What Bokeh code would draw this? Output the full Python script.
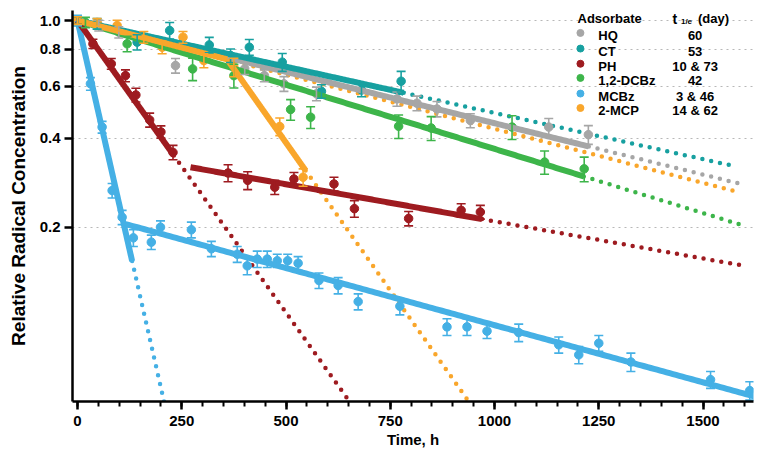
import numpy as np
from bokeh.plotting import figure
from bokeh.models import ColumnDataSource, Whisker, TeeHead, FixedTicker, PrintfTickFormatter, Range1d
from bokeh.core.properties import value
from bokeh.embed import file_html
from bokeh.resources import INLINE

FONT = "Liberation Sans"

# ---------------- data ----------------
names = ["HQ", "CT", "PH", "1,2-DCBz", "MCBz", "2-MCP"]
t_half_days = ["60", "53", "10 & 73", "42", "3 & 46", "14 & 62"]
colors = ["#a6a6a6", "#17a0a0", "#9e1b20", "#3db54a", "#45b0e5", "#f9a62b"]

hq_t = [0, 51, 99, 235, 401, 448, 495, 573, 766, 814, 862, 942, 1130, 1225]
hq_v = [1.0, 0.962, 0.913, 0.704, 0.687, 0.651, 0.611, 0.565, 0.543, 0.525, 0.502, 0.459, 0.436, 0.411]
hq_e = [0.03, 0.04, 0.04, 0.04, 0.03, 0.03, 0.035, 0.03, 0.03, 0.03, 0.03, 0.025, 0.03, 0.03]

ct_t = [0, 47, 143, 221, 316, 367, 412, 491, 585, 681, 776]
ct_v = [1.0, 0.975, 0.845, 0.925, 0.827, 0.761, 0.812, 0.723, 0.576, 0.582, 0.623]
ct_e = [0.04, 0.04, 0.05, 0.06, 0.05, 0.04, 0.05, 0.05, 0.03, 0.03, 0.05]

ph_t = [0, 37, 81, 115, 140, 173, 200, 229, 361, 408, 473, 519, 615, 664, 794, 920, 966]
ph_v = [1.0, 0.834, 0.714, 0.651, 0.56, 0.461, 0.42, 0.358, 0.305, 0.288, 0.273, 0.291, 0.280, 0.231, 0.214, 0.228, 0.225]
ph_e = [0.03, 0.03, 0.03, 0.03, 0.03, 0.025, 0.02, 0.02, 0.02, 0.02, 0.015, 0.015, 0.015, 0.015, 0.012, 0.012, 0.012]

dcbz_t = [0, 19, 119, 276, 375, 511, 559, 770, 848, 1042, 1120, 1215]
dcbz_v = [1.0, 0.985, 0.834, 0.686, 0.651, 0.50, 0.471, 0.439, 0.433, 0.436, 0.332, 0.315]
dcbz_e = [0.03, 0.04, 0.05, 0.06, 0.06, 0.04, 0.04, 0.04, 0.04, 0.04, 0.03, 0.03]

mcbz_t = [0, 31, 59, 83, 107, 134, 177, 199, 273, 321, 383, 407, 431, 455, 479, 504, 529,
          579, 625, 673, 773, 886, 934, 982, 1058, 1154, 1202, 1250, 1327, 1518, 1612]
mcbz_v = [1.0, 0.611, 0.436, 0.266, 0.216, 0.184, 0.178, 0.200, 0.196, 0.169, 0.162, 0.148, 0.156, 0.156, 0.154, 0.154, 0.151,
          0.132, 0.127, 0.112, 0.108, 0.092, 0.092, 0.089, 0.088, 0.080, 0.074, 0.081, 0.070, 0.061, 0.056]
mcbz_e = [0.04, 0.03, 0.02, 0.015, 0.012, 0.012, 0.01, 0.01, 0.012, 0.01, 0.01, 0.01, 0.01, 0.01, 0.008, 0.008, 0.008,
          0.008, 0.008, 0.007, 0.007, 0.006, 0.006, 0.005, 0.006, 0.005, 0.005, 0.005, 0.005, 0.004, 0.004]

mcp_t = [0, 47, 95, 159, 203, 253, 303, 375, 485, 541]
mcp_v = [1.0, 0.985, 0.962, 0.878, 0.812, 0.878, 0.732, 0.695, 0.438, 0.295]
mcp_e = [0.03, 0.03, 0.04, 0.04, 0.04, 0.04, 0.04, 0.05, 0.03, 0.02]

# fitted first-order decays: (amplitude, rate 1/h, solid from, solid to, dotted to)
hq_fit = [(1.0, 0.00080, 0, 1226, 1585)]
ct_fit = [(1.0, 0.00072, 0, 782, 1580)]
ph_fit = [(1.0, 0.00455, 0, 231, 660), (0.373, 0.000578, 271, 970, 1590)]
dcbz_fit = [(1.0, 0.00100, 0, 1214, 1588)]
mcbz_fit = [(1.0, 0.0143, 0, 131, 212), (0.227, 0.00089, 115, 1625, 1625)]
mcp_fit = [(1.0, 0.000843, 0, 359, 1588), (3.85, 0.0046, 359, 547, 940)]

x_ticks = [0, 250, 500, 750, 1000, 1250, 1500]
y_ticks = [0.2, 0.4, 0.6, 0.8, 1.0]

series = [
    (hq_t, hq_v, hq_e, hq_fit),
    (ct_t, ct_v, ct_e, ct_fit),
    (ph_t, ph_v, ph_e, ph_fit),
    (dcbz_t, dcbz_v, dcbz_e, dcbz_fit),
    (mcbz_t, mcbz_v, mcbz_e, mcbz_fit),
    (mcp_t, mcp_v, mcp_e, mcp_fit),
]

# ---------------- figure ----------------
p = figure(width=756, height=456, y_axis_type="log",
           x_range=Range1d(-12, 1621), y_range=Range1d(0.05145, 1.081),
           output_backend="svg", toolbar_location=None,
           min_border_left=72, min_border_right=3, min_border_top=10, min_border_bottom=55)
p.outline_line_color = None
p.background_fill_color = "white"
p.border_fill_color = "white"

# axes
for ax in (p.xaxis[0], p.yaxis[0]):
    ax.axis_line_width = 2.5
    ax.axis_line_color = "black"
    ax.major_tick_line_width = 2.5
    ax.major_tick_line_color = "black"
    ax.major_tick_in = 0
    ax.major_tick_out = 8
    ax.major_label_text_font = FONT
    ax.major_label_text_font_style = "bold"
    ax.major_label_text_font_size = "15px"
    ax.major_label_text_color = "black"
    ax.axis_label_text_font = FONT
    ax.axis_label_text_font_style = "bold"
    ax.axis_label_text_font_size = "15px"
    ax.axis_label_text_color = "black"

p.xaxis.ticker = FixedTicker(ticks=x_ticks, minor_ticks=list(range(0, 1650, 50)))
p.xaxis.minor_tick_in = 0
p.xaxis.minor_tick_out = 5
p.xaxis.minor_tick_line_width = 2
p.xaxis.minor_tick_line_color = "black"
p.xaxis.axis_label = "Time, h"
p.xaxis.major_label_standoff = 6
p.xaxis.axis_label_standoff = 2

p.yaxis.ticker = FixedTicker(ticks=y_ticks, minor_ticks=[])
p.yaxis.formatter = PrintfTickFormatter(format="%.1f")
p.yaxis.minor_tick_line_color = None
p.yaxis.axis_label = "Relative Radical Concentration"
p.yaxis.axis_label_text_font_size = "19px"
p.yaxis.major_label_standoff = 4
p.yaxis.axis_label_standoff = 8

p.xgrid.grid_line_color = None
p.ygrid.ticker = FixedTicker(ticks=y_ticks, minor_ticks=[])
p.ygrid.grid_line_color = "#b8b8b8"
p.ygrid.grid_line_dash = "dotted"
p.ygrid.grid_line_width = 1

# dotted extrapolations
for (tt, vv, ee, fit), c in zip(series, colors):
    for amp, k, t0, t1, t2 in fit:
        if t2 > t1:
            td = np.linspace(t1, t2, 200)
            p.line(td, amp * np.exp(-k * td), line_color=c, line_width=4.5,
                   line_dash="0 9", line_cap="round")

# points with error bars
for (tt, vv, ee, fit), c in zip(series, colors):
    tt = np.array(tt, float); vv = np.array(vv, float); ee = np.array(ee, float)
    src = ColumnDataSource(dict(t=tt, v=vv, up=vv + ee, lo=vv - ee))
    w = Whisker(source=src, base="t", upper="up", lower="lo", dimension="height",
                line_color=c, line_width=1.6, level="glyph",
                upper_head=TeeHead(size=9, line_color=c, line_width=1.6),
                lower_head=TeeHead(size=9, line_color=c, line_width=1.6))
    p.add_layout(w)
    p.scatter("t", "v", source=src, size=8.5, fill_color=c, line_color=c)

# solid fits
draw_order = [4, 2, 3, 0, 1, 5]
for i in draw_order:
    tt, vv, ee, fit = series[i]
    for amp, k, t0, t1, t2 in fit:
        ts = np.linspace(t0, t1, 200)
        p.line(ts, amp * np.exp(-k * ts), line_color=colors[i], line_width=6, line_cap="butt")

# ---------------- legend (text block, top right) ----------------
leg_rows_y = [0.890, 0.788, 0.700, 0.627, 0.555, 0.496]
p.text(x=[1199], y=[1.013], text=["Adsorbate"], text_font=value(FONT), text_font_style="bold",
       text_font_size="13px", text_baseline="middle", text_align="left", text_color="black")
p.text(x=[1427], y=[1.013], text=["t"], text_font=value(FONT), text_font_style="bold",
       text_font_size="14px", text_baseline="middle", text_align="left", text_color="black")
p.text(x=[1447], y=[0.99], text=["1/e"], text_font=value(FONT), text_font_style="bold",
       text_font_size="8px", text_baseline="middle", text_align="left", text_color="black")
p.text(x=[1488], y=[1.013], text=["(day)"], text_font=value(FONT), text_font_style="bold",
       text_font_size="13px", text_baseline="middle", text_align="left", text_color="black")
p.scatter(x=[1206] * 6, y=[y * 1.02 for y in leg_rows_y], size=7, fill_color=colors, line_color=colors)
p.text(x=[1249] * 6, y=leg_rows_y, text=names, text_font=value(FONT), text_font_style="bold",
       text_font_size="13px", text_baseline="middle", text_align="left", text_color="black")
p.text(x=[1481] * 6, y=leg_rows_y, text=t_half_days, text_font=value(FONT), text_font_style="bold",
       text_font_size="13px", text_baseline="middle", text_align="center", text_color="black")

open("out.html", "w").write(file_html(p, INLINE))
